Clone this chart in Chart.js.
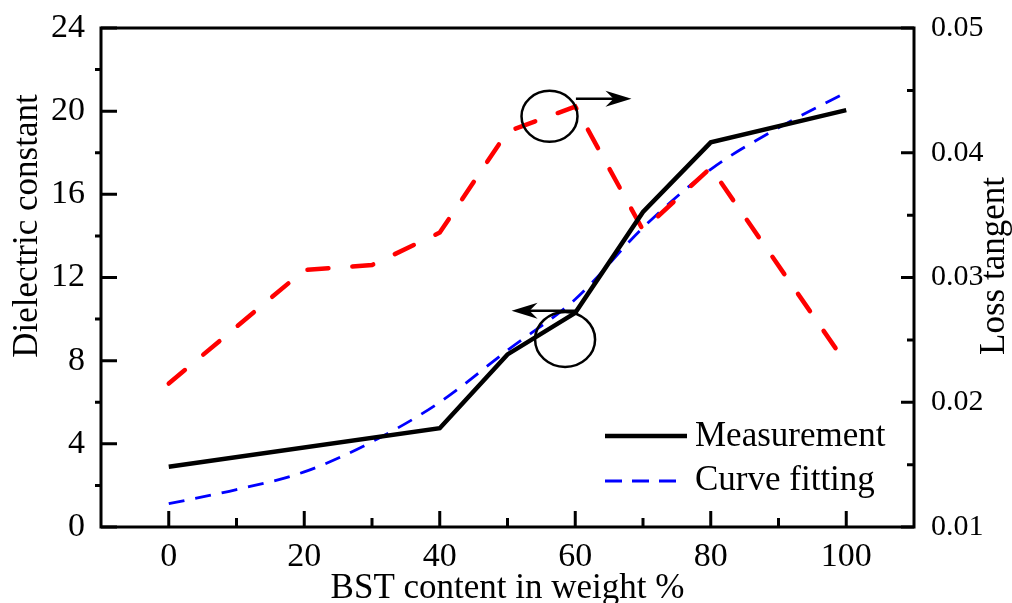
<!DOCTYPE html>
<html>
<head>
<meta charset="utf-8">
<script src="https://cdn.jsdelivr.net/npm/chart.js@4.4.1/dist/chart.umd.min.js"></script>
<style>
  html, body { margin: 0; padding: 0; background: #fff; overflow: hidden; }
  #wrap { width: 1012px; height: 603px; position: relative; }
</style>
</head>
<body>
<div id="wrap"><canvas id="chart"></canvas></div>
<script>
// measured dielectric constant
const bstContent = [0, 40, 50, 60, 70, 80, 100];
const dielectricMeasured = [2.9, 4.75, 8.3, 10.3, 15.15, 18.5, 20.05];

// fitted dielectric constant
const fitContent = [0, 10, 20, 30, 40, 50, 60, 70, 80, 90, 100];
const dielectricFit = [1.12, 1.8, 2.65, 4.1, 6.0, 8.5, 10.95, 14.4, 17.2, 19.2, 20.9];

// loss tangent (right axis)
const lossContent = [0, 20, 30, 40, 50, 60, 70, 80, 100];
const lossTangent = [0.0215, 0.0306, 0.031, 0.0336, 0.0417, 0.0437, 0.0338, 0.0388, 0.0231];

// tick values
const xMajor = [0, 20, 40, 60, 80, 100];
const xMinor = [10, 30, 50, 70, 90];
const yMajor = [0, 4, 8, 12, 16, 20, 24];
const yMinor = [2, 6, 10, 14, 18, 22];
const lossMajor = [0.01, 0.02, 0.03, 0.04, 0.05];
const lossMinor = [0.015, 0.025, 0.035, 0.045];

const FONT = "'Liberation Serif', 'Times New Roman', serif";

const toPoints = (xs, ys) => xs.map((x, i) => ({ x: x, y: ys[i] }));

// circles and arrows, in data units of x / left axis
const marks = {
  circles: [
    { x: 56.2, y: 19.75, rx: 28, ry: 25.5 },
    { x: 58.5, y: 9.02, rx: 30, ry: 27.5 }
  ],
  arrows: [
    { from: 60.1, to: 68.3, y: 20.6 },
    { from: 60.1, to: 50.6, y: 10.4 }
  ]
};

// fixed axis box sizes so the plot area sits where the original does
const fixWidth = w => s => { s.width = w; s.paddingTop = 0; s.paddingBottom = 0; };

const framePlugin = {
  id: 'frame',
  beforeDatasetsDraw(chart) {
    const { ctx, chartArea: a, scales } = chart;
    ctx.save();
    ctx.strokeStyle = '#000';
    ctx.lineWidth = 3;
    ctx.lineCap = 'butt';
    ctx.strokeRect(a.left, a.top, a.right - a.left, a.bottom - a.top);

    ctx.beginPath();
    // bottom ticks point up
    xMajor.forEach(v => { const p = scales.x.getPixelForValue(v); ctx.moveTo(p, a.bottom); ctx.lineTo(p, a.bottom - 16); });
    xMinor.forEach(v => { const p = scales.x.getPixelForValue(v); ctx.moveTo(p, a.bottom); ctx.lineTo(p, a.bottom - 9); });
    // left: major inward, minor outward
    yMajor.forEach(v => { const p = scales.y.getPixelForValue(v); ctx.moveTo(a.left, p); ctx.lineTo(a.left + 16, p); });
    yMinor.forEach(v => { const p = scales.y.getPixelForValue(v); ctx.moveTo(a.left, p); ctx.lineTo(a.left - 6, p); });
    // right ticks point left
    lossMajor.forEach(v => { const p = scales.y1.getPixelForValue(v); ctx.moveTo(a.right, p); ctx.lineTo(a.right - 13, p); });
    lossMinor.forEach(v => { const p = scales.y1.getPixelForValue(v); ctx.moveTo(a.right, p); ctx.lineTo(a.right - 7, p); });
    ctx.stroke();

    // axis titles
    ctx.fillStyle = '#000';
    ctx.font = '35px ' + FONT;
    ctx.textAlign = 'center';
    ctx.textBaseline = 'alphabetic';
    ctx.fillText('BST content in weight %', (a.left + a.right) / 2, 598);

    ctx.save();
    ctx.translate(37, 226);
    ctx.rotate(-Math.PI / 2);
    ctx.fillText('Dielectric constant', 0, 0);
    ctx.restore();

    ctx.save();
    ctx.translate(1004, 266);
    ctx.rotate(-Math.PI / 2);
    ctx.fillText('Loss tangent', 0, 0);
    ctx.restore();
    ctx.restore();
  },
  afterDatasetsDraw(chart) {
    const { ctx, scales } = chart;
    ctx.save();
    ctx.strokeStyle = '#000';
    ctx.fillStyle = '#000';
    ctx.lineWidth = 2.5;
    marks.circles.forEach(c => {
      ctx.beginPath();
      ctx.ellipse(scales.x.getPixelForValue(c.x), scales.y.getPixelForValue(c.y), c.rx, c.ry, 0, 0, Math.PI * 2);
      ctx.stroke();
    });
    marks.arrows.forEach(ar => {
      const x0 = scales.x.getPixelForValue(ar.from);
      const x1 = scales.x.getPixelForValue(ar.to);
      const y = scales.y.getPixelForValue(ar.y);
      const d = Math.sign(x1 - x0);
      ctx.beginPath();
      ctx.moveTo(x0, y);
      ctx.lineTo(x1 - d * 10, y);
      ctx.stroke();
      ctx.beginPath();
      ctx.moveTo(x1, y);
      ctx.lineTo(x1 - d * 26, y - 8);
      ctx.lineTo(x1 - d * 18, y);
      ctx.lineTo(x1 - d * 26, y + 8);
      ctx.closePath();
      ctx.fill();
    });

    // legend
    ctx.lineWidth = 4.5;
    ctx.beginPath();
    ctx.moveTo(605, 436);
    ctx.lineTo(687, 436);
    ctx.stroke();
    ctx.strokeStyle = '#0000ff';
    ctx.lineWidth = 3;
    ctx.setLineDash([17, 10]);
    ctx.beginPath();
    ctx.moveTo(605, 481);
    ctx.lineTo(678, 481);
    ctx.stroke();
    ctx.setLineDash([]);
    ctx.font = '35px ' + FONT;
    ctx.textAlign = 'left';
    ctx.textBaseline = 'middle';
    ctx.fillText('Measurement', 695, 437);
    ctx.fillText('Curve fitting', 695, 481);
    ctx.restore();
  }
};

new Chart(document.getElementById('chart'), {
  type: 'line',
  data: {
    datasets: [{
      label: 'Measurement',
      data: toPoints(bstContent, dielectricMeasured),
      yAxisID: 'y',
      borderColor: '#000',
      borderWidth: 4.5,
      pointRadius: 0,
      order: 0
    }, {
      label: 'Loss tangent',
      data: toPoints(lossContent, lossTangent),
      yAxisID: 'y1',
      borderColor: '#ff0000',
      borderWidth: 4.5,
      borderDash: [21, 24],
      borderCapStyle: 'round',
      pointRadius: 0,
      order: 1
    }, {
      label: 'Curve fitting',
      data: toPoints(fitContent, dielectricFit),
      yAxisID: 'y',
      borderColor: '#0000ff',
      borderWidth: 2.8,
      borderDash: [16, 11],
      cubicInterpolationMode: 'monotone',
      pointRadius: 0,
      order: 2
    }]
  },
  options: {
    responsive: true,
    maintainAspectRatio: false,
    animation: false,
    layout: { padding: { top: 28, left: 0, right: 0, bottom: 0 } },
    plugins: { legend: { display: false }, tooltip: { enabled: false } },
    scales: {
      x: {
        type: 'linear',
        min: -10,
        max: 110,
        afterBuildTicks: s => { s.ticks = xMajor.map(v => ({ value: v })); },
        afterFit: s => { s.height = 76; },
        grid: { display: false, drawTicks: false },
        border: { display: false },
        ticks: { color: '#000', font: { family: FONT, size: 34 }, padding: 10, maxRotation: 0 }
      },
      y: {
        position: 'left',
        min: 0,
        max: 24,
        afterBuildTicks: s => { s.ticks = yMajor.map(v => ({ value: v })); },
        afterFit: fixWidth(101),
        grid: { display: false, drawTicks: false },
        border: { display: false },
        ticks: { color: '#000', font: { family: FONT, size: 34 }, padding: 16 }
      },
      y1: {
        position: 'right',
        min: 0.01,
        max: 0.05,
        afterBuildTicks: s => { s.ticks = lossMajor.map(v => ({ value: v })); },
        afterFit: fixWidth(98),
        grid: { display: false, drawTicks: false },
        border: { display: false },
        ticks: { color: '#000', font: { family: FONT, size: 30 }, padding: 17, callback: v => v.toFixed(2) }
      }
    }
  },
  plugins: [framePlugin]
});
</script>
</body>
</html>
